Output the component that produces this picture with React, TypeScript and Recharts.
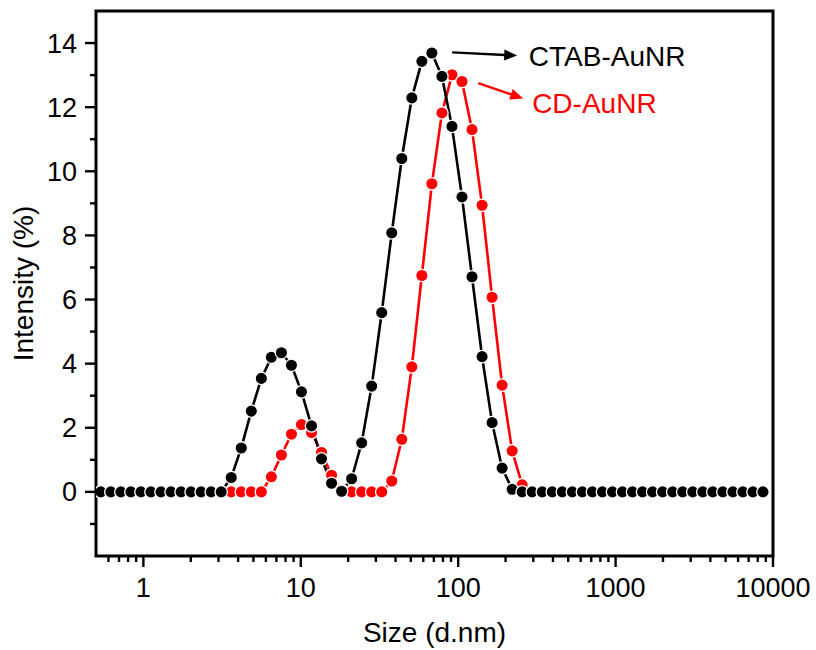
import React from 'react';
import {
  LineChart, Line, XAxis, YAxis, ReferenceArea, ReferenceLine, ReferenceDot, Label,
} from 'recharts';

const sizes = [
  0.5365, 0.6213, 0.7195, 0.8332, 0.9649, 1.117, 1.294, 1.499, 1.736, 2.01,
  2.328, 2.696, 3.122, 3.615, 4.187, 4.849, 5.615, 6.503, 7.531, 8.721,
  10.1, 11.7, 13.54, 15.69, 18.17, 21.04, 24.36, 28.21, 32.67, 37.84,
  43.82, 50.75, 58.77, 68.06, 78.82, 91.28, 105.7, 122.4, 141.8, 164.2,
  190.1, 220.2, 255.0, 295.3, 342.0, 396.1, 458.7, 531.2, 615.1, 712.4,
  825.0, 955.4, 1106, 1281, 1484, 1718, 1990, 2305, 2669, 3091,
  3580, 4145, 4801, 5560, 6439, 7456, 8635,
];

const ctabAuNR = [
  0, 0, 0, 0, 0, 0, 0, 0, 0, 0,
  0, 0, 0, 0.45, 1.37, 2.52, 3.54, 4.2, 4.34, 3.95,
  3.12, 2.06, 1.03, 0.27, 0.02, 0.41, 1.53, 3.3, 5.59, 8.08,
  10.4, 12.29, 13.43, 13.69, 12.96, 11.4, 9.2, 6.71, 4.22, 2.16,
  0.74, 0.08, 0, 0, 0, 0, 0, 0, 0, 0,
  0, 0, 0, 0, 0, 0, 0, 0, 0, 0,
  0, 0, 0, 0, 0, 0, 0,
];

const cdAuNR = [
  0, 0, 0, 0, 0, 0, 0, 0, 0, 0,
  0, 0, 0, 0, 0, 0, 0, 0.47, 1.15, 1.8,
  2.1, 1.85, 1.23, 0.52, 0.05, 0, 0, 0, 0, 0.34,
  1.64, 3.9, 6.75, 9.61, 11.82, 13.01, 12.8, 11.3, 8.94, 6.07,
  3.33, 1.28, 0.22, 0, 0, 0, 0, 0, 0, 0,
  0, 0, 0, 0, 0, 0, 0, 0, 0, 0,
  0, 0, 0, 0, 0, 0, 0,
];

const xMajorTicks = [1, 10, 100, 1000, 10000];
const xTicks = [
  0.6, 0.7, 0.8, 0.9,
  1, 2, 3, 4, 5, 6, 7, 8, 9,
  10, 20, 30, 40, 50, 60, 70, 80, 90,
  100, 200, 300, 400, 500, 600, 700, 800, 900,
  1000, 2000, 3000, 4000, 5000, 6000, 7000, 8000, 9000,
  10000,
];
const yMajorTicks = [0, 2, 4, 6, 8, 10, 12, 14];
const yTicks = [-1, 0, 1, 2, 3, 4, 5, 6, 7, 8, 9, 10, 11, 12, 13, 14];

const xDomain = [0.5, 10000];
const yDomain = [-2, 15];

// annotation anchors (data coordinates)
const ctabArrow = [{ x: 91.6, y: 13.71 }, { x: 237, y: 13.61 }];
const ctabLabel = { x: 281, y: 13.3, text: 'CTAB-AuNR' };
const cdArrow = [{ x: 134, y: 12.75 }, { x: 259, y: 12.27 }];
const cdLabel = { x: 295, y: 11.82, text: 'CD-AuNR' };

const data = sizes.map((s, i) => ({ size: s, ctab: ctabAuNR[i], cd: cdAuNR[i] }));

const FONT = '"Liberation Sans", Arial, Helvetica, sans-serif';

const XTick = (props: any) => {
  const { x, y, payload } = props;
  const v = payload.value;
  const major = xMajorTicks.includes(v);
  return (
    <g>
      <line x1={x} y1={y} x2={x} y2={y + (major ? 11 : 6)} stroke="#000" strokeWidth={2.4} />
      {major && (
        <text x={x} y={y + 41} textAnchor="middle" fontSize={27} fontFamily={FONT} fill="#000">
          {String(v)}
        </text>
      )}
    </g>
  );
};

const YTick = (props: any) => {
  const { x, y, payload } = props;
  const v = payload.value;
  const major = yMajorTicks.includes(v);
  return (
    <g>
      <line x1={x} y1={y} x2={x - (major ? 11 : 6)} y2={y} stroke="#000" strokeWidth={2.4} />
      {major && (
        <text x={x - 19} y={y + 9.5} textAnchor="end" fontSize={27} fontFamily={FONT} fill="#000">
          {String(v)}
        </text>
      )}
    </g>
  );
};

const makeArrow = (color: string) => (props: any) => {
  const { x1, y1, x2, y2 } = props;
  if ([x1, y1, x2, y2].some((n) => typeof n !== 'number' || isNaN(n))) return <g />;
  const dx = x2 - x1;
  const dy = y2 - y1;
  const len = Math.sqrt(dx * dx + dy * dy);
  const ux = dx / len;
  const uy = dy / len;
  const hl = 13;
  const hw = 5.5;
  const bx = x2 - ux * hl;
  const by = y2 - uy * hl;
  const pts = `${x2},${y2} ${bx - uy * hw},${by + ux * hw} ${bx + uy * hw},${by - ux * hw}`;
  return (
    <g>
      <line x1={x1} y1={y1} x2={bx + ux * 1} y2={by + uy * 1} stroke={color} strokeWidth={2.4} />
      <polygon points={pts} fill={color} />
    </g>
  );
};

const makeText = (text: string, color: string) => (props: any) => {
  const { cx, cy } = props;
  return (
    <text x={cx} y={cy} fontSize={28} fontFamily={FONT} fill={color} textAnchor="start">
      {text}
    </text>
  );
};

const XTitle = (props: any) => {
  const vb = props.viewBox || {};
  const cx = vb.x + vb.width / 2;
  return (
    <text x={cx} y={642} textAnchor="middle" fontSize={28} fontFamily={FONT} fill="#000">
      Size (d.nm)
    </text>
  );
};

const YTitle = (props: any) => {
  const vb = props.viewBox || {};
  const cy = vb.y + vb.height / 2;
  return (
    <text
      x={33}
      y={cy}
      textAnchor="middle"
      fontSize={28}
      fontFamily={FONT}
      fill="#000"
      transform={`rotate(-90, 33, ${cy})`}
    >
      Intensity (%)
    </text>
  );
};

export default function App() {
  return (
    <div style={{ position: 'absolute', left: 0, top: 0, width: 816, height: 650, background: '#fff' }}>
      <LineChart
        width={816}
        height={650}
        data={data}
        margin={{ top: 11, right: 43, bottom: 0, left: 0 }}
      >
        <XAxis
          dataKey="size"
          type="number"
          scale="log"
          domain={xDomain}
          allowDataOverflow
          ticks={xTicks}
          interval={0}
          tick={<XTick />}
          tickLine={false}
          tickSize={0}
          tickMargin={0}
          axisLine={false}
          height={94}
        >
          <Label content={<XTitle />} />
        </XAxis>
        <YAxis
          type="number"
          domain={yDomain}
          allowDataOverflow
          ticks={yTicks}
          interval={0}
          tick={<YTick />}
          tickLine={false}
          tickSize={0}
          tickMargin={0}
          axisLine={false}
          width={96}
        >
          <Label content={<YTitle />} />
        </YAxis>
        <Line
          dataKey="cd"
          stroke="#FF0000"
          strokeWidth={2.6}
          isAnimationActive={false}
          dot={{ r: 6.2, fill: '#FF0000', stroke: '#FFFFFF', strokeWidth: 1.3 }}
          activeDot={false}
        />
        <Line
          dataKey="ctab"
          stroke="#000000"
          strokeWidth={2.6}
          isAnimationActive={false}
          dot={{ r: 6.2, fill: '#000000', stroke: '#FFFFFF', strokeWidth: 1.3 }}
          activeDot={false}
        />
        <ReferenceArea
          x1={xDomain[0]}
          x2={xDomain[1]}
          y1={yDomain[0]}
          y2={yDomain[1]}
          fill="none"
          fillOpacity={0}
          stroke="#000"
          strokeWidth={3}
          strokeOpacity={1}
          ifOverflow="visible"
        />
        <ReferenceLine segment={ctabArrow} shape={makeArrow('#000000')} ifOverflow="visible" />
        <ReferenceLine segment={cdArrow} shape={makeArrow('#FF0000')} ifOverflow="visible" />
        <ReferenceDot x={ctabLabel.x} y={ctabLabel.y} r={0} shape={makeText(ctabLabel.text, '#000000')} ifOverflow="visible" />
        <ReferenceDot x={cdLabel.x} y={cdLabel.y} r={0} shape={makeText(cdLabel.text, '#FF0000')} ifOverflow="visible" />
      </LineChart>
    </div>
  );
}
